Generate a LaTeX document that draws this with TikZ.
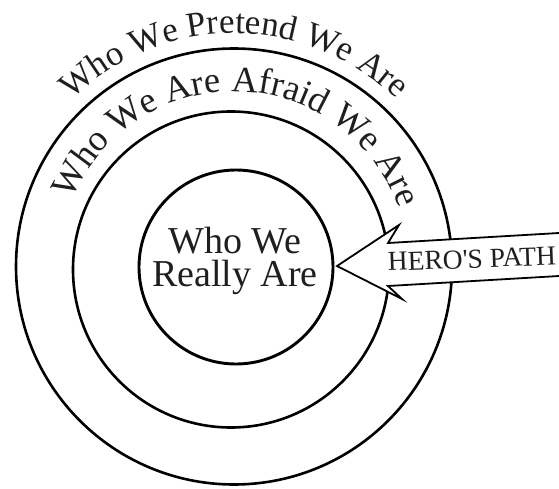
\documentclass[tikz,border=0pt]{standalone}
\usepackage{fontspec}
\setmainfont{Liberation Serif}
\usetikzlibrary{decorations.text}
\begin{document}
\begin{tikzpicture}[x=1pt,y=1pt,
  ring/.style={circle, draw=black, line width=2.6pt, inner sep=0pt, outer sep=0pt},
  arctext/.style={decorate, decoration={text along path, text align=center, text color=black!88, text={#1}}},
  arrowline/.style={draw=black, line width=1.8pt, fill=white, line join=miter}]
\useasboundingbox (0,0) rectangle (559,488);
\coordinate (co) at (234,221.5);
\coordinate (cm) at (231,218.5);
\coordinate (ci) at (236,221);
\node[ring, minimum size=436pt] (outer) at (co) {};
\node[ring, minimum size=316pt] (middle) at (cm) {};
\node[ring, line width=2.9pt, minimum size=194pt] (inner) at (ci) {};
\node[align=center, text=black!88, inner sep=0pt, font=\fontsize{38}{33}\selectfont]
  (innertext) at (235,227) {Who We\\Really Are};
\path[arctext={|\fontsize{35}{35}\selectfont|Who We Pretend We Are}]
  (co) ++(170:233) arc[start angle=170, end angle=10, radius=233];
\path[arctext={|\fontsize{36.5}{36.5}\selectfont|Who We Are Afraid We Are}]
  (co) ++(178:175) arc[start angle=178, end angle=-1, radius=175];
\coordinate (tip) at (337,222);
\coordinate (st) at (559,255);
\coordinate (sb) at (559,212);
\path[arrowline] (st) -- (388,245) -- (399,263) -- (tip) -- (402,189) -- (388,202) -- (sb);
\node[anchor=base west, rotate=2, text=black!88, font=\fontsize{27.5}{27.5}\selectfont, inner sep=0pt]
  (hero) at (388,217) {HERO\textquotesingle S PATH};
\end{tikzpicture}
\end{document}
